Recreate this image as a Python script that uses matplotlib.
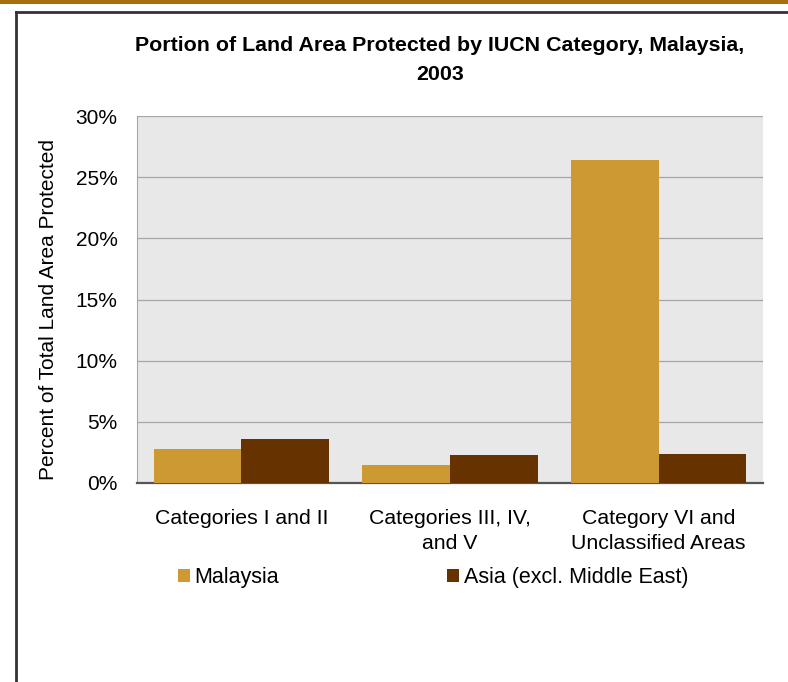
import matplotlib.pyplot as plt
import numpy as np
from matplotlib.ticker import FuncFormatter
from matplotlib.patches import Rectangle
from matplotlib.lines import Line2D

plt.rcParams['font.family'] = ['Liberation Sans', 'DejaVu Sans']

categories = ["Categories I and II", "Categories III, IV,\nand V", "Category VI and\nUnclassified Areas"]
series_names = ["Malaysia", "Asia (excl. Middle East)"]
malaysia = [2.8, 1.5, 26.4]
asia = [3.6, 2.3, 2.4]
colors = ["#CC9933", "#663300"]

W, H = 788, 682
fig = plt.figure(figsize=(W / 100, H / 100), dpi=100)

# page decoration: gold band on top, dark frame
fig.patches.append(Rectangle((0, 1 - 4 / H), 1, 4 / H, transform=fig.transFigure,
                             facecolor="#A8700A", edgecolor="none"))
fig.lines.append(Line2D([16 / W, 16 / W], [0, 1 - 12 / H], transform=fig.transFigure,
                        color="#333333", lw=2))
fig.lines.append(Line2D([16 / W, 1], [1 - 12 / H, 1 - 12 / H], transform=fig.transFigure,
                        color="#333333", lw=2))

left, right, top, bottom = 137, 763, 116, 483
ax = fig.add_axes([left / W, 1 - bottom / H, (right - left) / W, (bottom - top) / H])
ax.set_facecolor("#E8E8E8")

x = np.arange(len(categories))
bw = 0.42
ax.bar(x - bw / 2, malaysia, bw, color=colors[0], label=series_names[0], zorder=3)
ax.bar(x + bw / 2, asia, bw, color=colors[1], label=series_names[1], zorder=3)

ax.set_xlim(-0.5, len(categories) - 0.5)
ax.set_ylim(0, 30)
ax.set_yticks(np.arange(0, 31, 5))
ax.yaxis.set_major_formatter(FuncFormatter(lambda v, p: f"{v:.0f}%"))
ax.grid(axis="y", color="#A6A6A6", lw=0.9, zorder=1)
ax.set_xticks(x)
ax.set_xticklabels(categories, fontsize=15.3, linespacing=1.4)
ax.tick_params(axis="x", length=0, pad=19)
ax.tick_params(axis="y", length=0, labelsize=15, pad=14)

for s in ["top", "right"]:
    ax.spines[s].set_visible(False)
ax.spines["left"].set_color("#A6A6A6")
ax.spines["left"].set_linewidth(0.8)
ax.spines["bottom"].set_color("#555555")
ax.spines["bottom"].set_linewidth(1.6)

ax.set_ylabel("Percent of Total Land Area Protected", fontsize=15, va="center")
ax.yaxis.set_label_coords((48 - left) / (right - left), (bottom - 310) / (bottom - top))

fig.text(440 / W, 1 - 60 / H, "Portion of Land Area Protected by IUCN Category, Malaysia,\n2003",
         ha="center", va="center", fontsize=15.4, fontweight="bold", linespacing=1.65)

handles, labels = ax.get_legend_handles_labels()
fig.legend(handles, labels, loc="center left", bbox_to_anchor=(159 / W, 1 - 578 / H),
           ncol=2, frameon=False, fontsize=15.5, handlelength=0.56, handleheight=0.56,
           handletextpad=0.2, columnspacing=7.8)

fig.savefig("out.png", dpi=100)
